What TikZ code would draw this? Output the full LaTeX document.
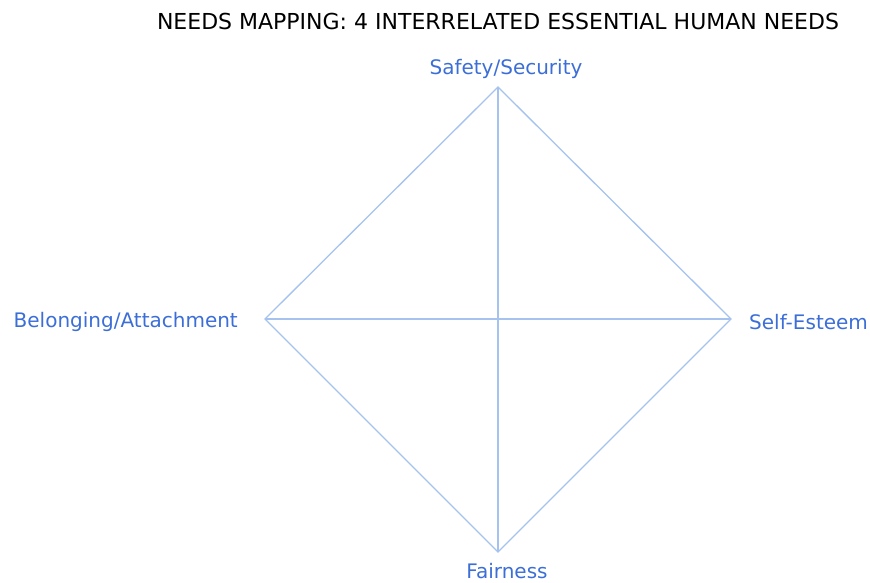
\documentclass[tikz,border=0pt]{standalone}
\usepackage{fontspec}
\setmainfont{DejaVu Sans}
\definecolor{linecol}{RGB}{165,195,238}
\definecolor{labcol}{RGB}{60,110,215}
\begin{document}
\begin{tikzpicture}[x=1pt,y=-1pt,
  edge/.style={draw=linecol,line width=1.3pt},
  lab/.style={text=labcol,font=\fontsize{20}{22}\selectfont,inner sep=0pt},
  ttl/.style={text=black,font=\fontsize{22}{24}\selectfont,inner sep=0pt}]
\useasboundingbox (0,0) rectangle (870,582);
\coordinate (T) at (498,87);
\coordinate (B) at (498,552);
\coordinate (L) at (265,319);
\coordinate (R) at (731,319);
\draw[edge] (T) -- (R) -- (B) -- (L) -- cycle;
\draw[edge] (T) -- (B);
\draw[edge] (L) -- (R);
\node[ttl] (title) at (498,21) {NEEDS MAPPING: 4 INTERRELATED ESSENTIAL HUMAN NEEDS};
\node[lab] (safety) at (506,69) {Safety/Security};
\node[lab,anchor=east] (belong) at (238,322) {Belonging/Attachment};
\node[lab,anchor=west] (esteem) at (749,322) {Self-Esteem};
\node[lab] (fair) at (507,571) {Fairness};
\end{tikzpicture}
\end{document}
